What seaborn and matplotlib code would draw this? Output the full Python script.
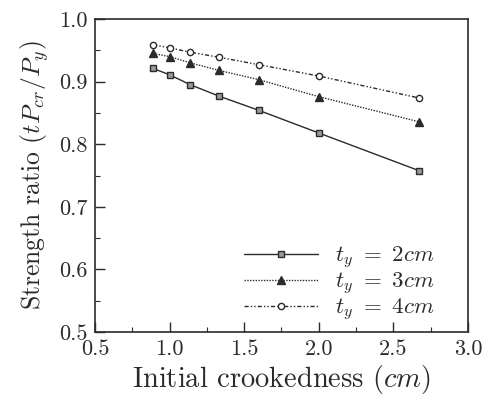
import matplotlib
matplotlib.use("Agg")
import seaborn as sns
import matplotlib.pyplot as plt
import pandas as pd
from matplotlib.ticker import MultipleLocator

# Initial crookedness values (cm)
crookedness = [0.89, 1.0, 1.14, 1.33, 1.6, 2.0, 2.67]

# Strength ratio for each t_y
ratio_2cm = [0.921, 0.911, 0.895, 0.877, 0.854, 0.818, 0.758]
ratio_3cm = [0.945, 0.940, 0.930, 0.918, 0.903, 0.876, 0.836]
ratio_4cm = [0.959, 0.954, 0.947, 0.939, 0.927, 0.909, 0.874]

labels = [r"$t_y\ =\ 2cm$", r"$t_y\ =\ 3cm$", r"$t_y\ =\ 4cm$"]

df = pd.DataFrame({
    "x": crookedness * 3,
    "y": ratio_2cm + ratio_3cm + ratio_4cm,
    "series": [labels[0]] * 7 + [labels[1]] * 7 + [labels[2]] * 7,
})

sns.set_style("ticks")
plt.rcParams["font.family"] = ["cmr10", "DejaVu Serif"]
plt.rcParams["mathtext.fontset"] = "cm"
plt.rcParams["axes.formatter.use_mathtext"] = True

ink = "#2b2b2b"

fig = plt.figure(figsize=(4.87, 4.05), dpi=100)
ax = fig.add_axes([0.195, 0.18, 0.766, 0.773])

styles = {
    labels[0]: dict(ls="-", marker="s", mfc="#999999", mec=ink, ms=4.5),
    labels[1]: dict(ls=(0, (1, 1)), marker="^", mfc=ink, mec=ink, ms=5.5),
    labels[2]: dict(ls=(0, (3, 1.5, 1, 1.5, 1, 1.5)), marker="o", mfc="white", mec=ink, ms=4.5),
}

for name in labels:
    sub = df[df["series"] == name]
    st = styles[name]
    sns.lineplot(data=sub, x="x", y="y", ax=ax, color=ink, lw=1.0,
                 linestyle=st["ls"], marker=st["marker"], markersize=st["ms"],
                 markerfacecolor=st["mfc"], markeredgecolor=st["mec"],
                 markeredgewidth=1.0, label=name)

ax.set_xlim(0.5, 3.0)
ax.set_ylim(0.5, 1.0)
ax.xaxis.set_major_locator(MultipleLocator(0.5))
ax.xaxis.set_minor_locator(MultipleLocator(0.25))
ax.yaxis.set_major_locator(MultipleLocator(0.1))
ax.yaxis.set_minor_locator(MultipleLocator(0.05))
ax.xaxis.set_major_formatter(matplotlib.ticker.FormatStrFormatter("%.1f"))
ax.yaxis.set_major_formatter(matplotlib.ticker.FormatStrFormatter("%.1f"))

ax.tick_params(which="major", direction="in", length=7, width=1, colors=ink,
               labelsize=16, pad=5)
ax.tick_params(which="minor", direction="in", length=3.5, width=0.8, colors=ink)
for sp in ax.spines.values():
    sp.set_color(ink)
    sp.set_linewidth(1.2)

ax.set_xlabel(r"Initial crookedness $(cm)$", fontsize=20.5, color=ink, labelpad=3)
ax.set_ylabel(r"Strength ratio $(tP_{cr}/P_y)$", fontsize=18.5, color=ink, labelpad=6)

leg = ax.legend(loc="upper left", bbox_to_anchor=(0.345, 0.346), frameon=False,
                fontsize=16.5, handlelength=3.2, labelspacing=0.0, handletextpad=0.75)
for t in leg.get_texts():
    t.set_color(ink)

plt.savefig("out.png", dpi=100)
